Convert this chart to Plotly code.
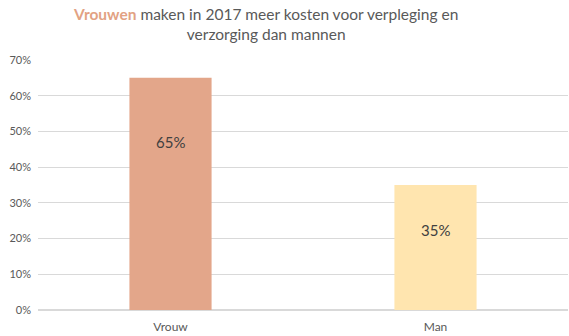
import plotly.graph_objects as go

categories = ["Vrouw", "Man"]
shares = [0.65, 0.35]
bar_colors = ["#E3A68A", "#FFE5AF"]
label_shift_px = [-64, -45]
y_ticks = [0, 0.1, 0.2, 0.3, 0.4, 0.5, 0.6, 0.7]

FONT = "Lato, 'Open Sans', sans-serif"
GREY = "#595959"

fig = go.Figure(
    go.Bar(
        x=categories,
        y=shares,
        marker=dict(color=bar_colors, line=dict(width=0)),
        hoverinfo="skip",
    )
)

for cat, val, shift in zip(categories, shares, label_shift_px):
    fig.add_annotation(
        x=cat, y=val, yshift=shift, text=f"{val:.0%}", showarrow=False,
        font=dict(family=FONT, size=15, color="#404040"),
    )

fig.add_annotation(
    xref="paper", yref="paper", x=0.43, xanchor="center", y=1.0, yshift=57, yanchor="top",
    showarrow=False, align="center",
    text=("<span style='color:#E2A283'><b>Vrouwen</b></span> maken in 2017 meer kosten voor verpleging en"
          "<br>verzorging dan mannen"),
    font=dict(family=FONT, size=15.5, color=GREY),
)

fig.update_layout(
    width=569, height=336,
    margin=dict(l=38, r=1, t=60, b=26),
    paper_bgcolor="white", plot_bgcolor="white",
    bargap=0.69,
    showlegend=False,
    font=dict(family=FONT, color=GREY),
)
fig.update_xaxes(showgrid=False, showline=False, ticks="", ticklabelstandoff=8,
                 tickfont=dict(size=12, color=GREY))
fig.update_yaxes(
    range=[0, 0.7], tickvals=y_ticks, tickformat=".0%",
    showgrid=True, gridcolor="#D9D9D9", gridwidth=1, zeroline=True, zerolinecolor="#D9D9D9",
    showline=False, ticks="", tickfont=dict(size=11, color=GREY), ticklabelstandoff=6,
)

fig.write_html("out.html")
